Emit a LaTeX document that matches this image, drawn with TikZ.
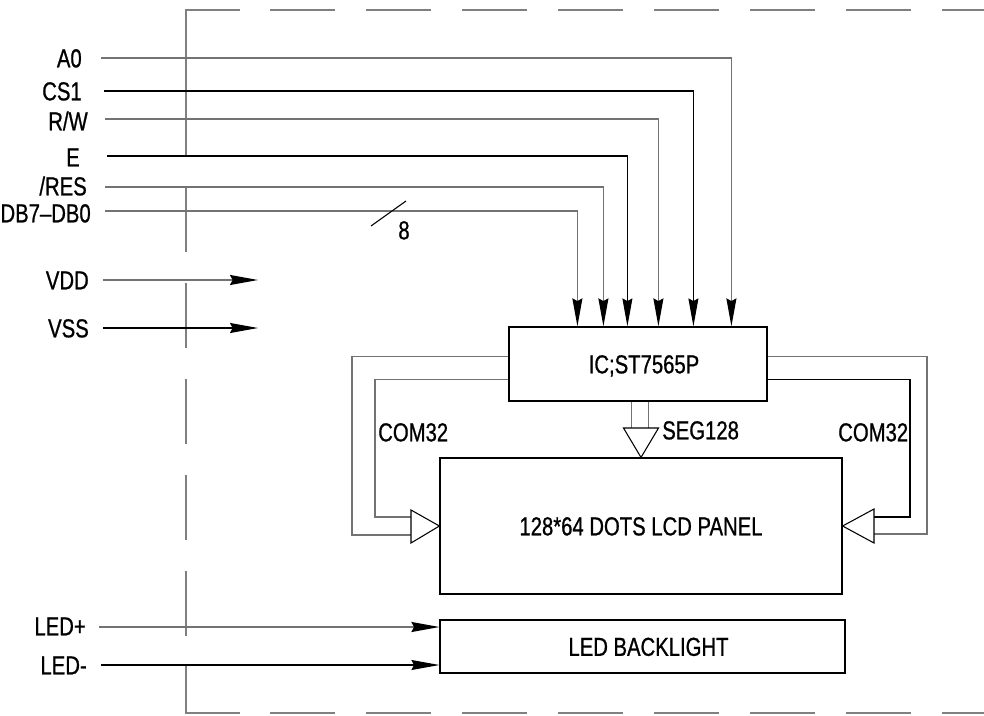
\documentclass[tikz,border=0pt]{standalone}
\usepackage{fontspec}
\setmainfont{Liberation Sans}[FakeStretch=0.78,FakeBold=0.8]
\usetikzlibrary{arrows.meta}
\begin{document}
\begin{tikzpicture}[x=0.75pt,y=-0.75pt,
  font=\fontsize{19.5}{21}\selectfont,
  lbl/.style={inner sep=0pt, text height=14pt, text depth=0pt},
  box/.style={draw, line width=0.9pt, inner sep=0pt, text height=14pt, text depth=0pt},
  gline/.style={draw=black!55, line width=1.1pt},
  kline/.style={draw=black, line width=0.8pt},
  tipd/.style={-{Stealth[length=21pt,width=7.5pt,inset=2pt,color=black]}},
  dbox/.style={draw=black!50, line width=1.1pt},
  dashd/.style={dbox, dash pattern=on 48.75pt off 23.25pt},
  opentri/.style={draw=black, line width=0.8pt, fill=white, line join=miter}
]
\useasboundingbox (0,0) rectangle (984,715);
\fill[white] (0,0) rectangle (984,715);

% dashed module outline
\draw[dbox] (186,156) -- (186,10) -- (240,10);
\draw[dashd] (270,10) -- (990,10);
\draw[dashd] (186,187) -- (186,640);
\draw[dbox] (186,665) -- (186,713) -- (240,713);
\draw[dashd] (270,713) -- (990,713);

% blocks
\node[box, minimum width=193.5pt, minimum height=55.5pt] (ic) at (638,364) {\hspace*{9pt}IC;ST7565P};
\node[box, minimum width=301.5pt, minimum height=102pt] (lcd) at (641,526) {128*64 DOTS LCD PANEL};
\node[box, minimum width=303.75pt, minimum height=39.75pt] (led) at (642.5,646.5) {\hspace*{9pt}LED BACKLIGHT};

% labels
\node[lbl, anchor=east] (la0) at (82,58) {A0};
\node[lbl, anchor=east] (lcs) at (82,91) {CS1};
\node[lbl, anchor=east] (lrw) at (88,121) {R/W};
\node[lbl, anchor=east] (le) at (80,157) {E};
\node[lbl, anchor=east] (lres) at (87,186) {/RES};
\node[lbl, anchor=east] (ldb) at (91,213) {DB7–DB0};
\node[lbl, anchor=east] (lvdd) at (89,280) {VDD};
\node[lbl, anchor=east] (lvss) at (89,328) {VSS};
\node[lbl, anchor=east] (lledp) at (86,626) {LED+};
\node[lbl, anchor=east] (lledm) at (87,665) {LED-};
\node[lbl, anchor=west] (lcoml) at (378,432) {COM32};
\node[lbl, anchor=west] (lcomr) at (838,432) {COM32};
\node[lbl, anchor=west] (lseg) at (662,430) {SEG128};
\node[lbl] (n8) at (404,230) {8};

% signal start points
\coordinate (sa0) at (101,58);
\coordinate (scs) at (104,91);
\coordinate (srw) at (105,119);
\coordinate (se) at (107,156);
\coordinate (sres) at (105,187);
\coordinate (sdb) at (105,211);
\coordinate (svdd) at (103,280);
\coordinate (svss) at (103,328);
\coordinate (ledps) at (99,627);
\coordinate (ledms) at (101,665);
\coordinate (evdd) at (258,280);
\coordinate (evss) at (258,328);

% entry points on IC top
\path (ic.north west) ++(69,0) coordinate (edb)
      (ic.north west) ++(95,0) coordinate (eres)
      (ic.north west) ++(119,0) coordinate (ee)
      (ic.north west) ++(150,0) coordinate (erw)
      (ic.north west) ++(185,0) coordinate (ecs)
      (ic.north west) ++(223,0) coordinate (ea0);

\draw[gline, tipd] (sa0) -| (ea0);
\draw[kline, tipd] (scs) -| (ecs);
\draw[gline, tipd] (srw) -| (erw);
\draw[kline, tipd] (se) -| (ee);
\draw[gline, tipd] (sres) -| (eres);
\draw[gline, tipd] (sdb) -| (edb);
\draw[kline] (371,226) -- (406,201);

\draw[gline, tipd] (svdd) -- (evdd);
\draw[kline, tipd] (svss) -- (evss);

\draw[gline, tipd] (ledps) -- (led.west |- ledps);
\draw[kline, tipd] (ledms) -- (led.west |- ledms);

% COM32 left
\draw[gline] (ic.north west) ++(0,30) -| (352,535) -- (411,535);
\draw[gline] (ic.north west) ++(0,53) -| (375,517) -- (411,517);
\draw[opentri] (411,510) -- (411,543) -- (lcd.west) -- cycle;

% COM32 right
\draw[gline] (ic.north east) ++(0,30) -| (927,534) -- (874,534);
\draw[kline] (ic.north east) ++(0,53) -| (910,517) -- (874,517);
\draw[opentri] (874,509) -- (874,543) -- (lcd.east) -- cycle;

% SEG128
\draw[gline] (ic.south) ++(-6.5,0) -- ++(0,27);
\draw[gline] (ic.south) ++(10.5,0) -- ++(0,27);
\draw[opentri] (623.5,428) -- (658.5,428) -- (lcd.north) -- cycle;
\end{tikzpicture}
\end{document}
